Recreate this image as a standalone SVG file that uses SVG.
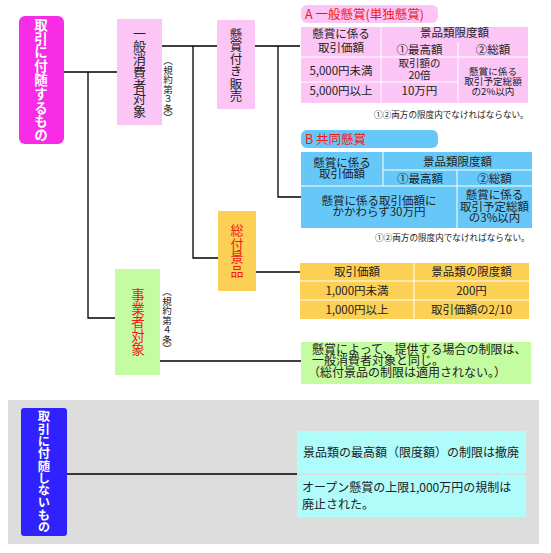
<svg xmlns="http://www.w3.org/2000/svg" width="551" height="553" viewBox="0 0 551 553">
<style>
text{font-family:"Noto Sans CJK JP","Noto Sans CJK SC",sans-serif;fill:#222;}
.t{font-size:11.5px;text-anchor:middle;}
.s{font-size:9.6px;text-anchor:middle;}
.l{font-size:12px;}
.v{writing-mode:vertical-rl;text-anchor:middle;}
.note{font-size:8.6px;}
.red{fill:#f01818;}
.wb{fill:#fff;font-weight:bold;}
.ln{stroke:#000;stroke-width:1.3;fill:none;}
.cell{stroke:#fff;stroke-width:1;}
</style>
<rect x="8" y="400" width="531" height="144" fill="#dcdddc"/>
<g id="connectors">
<path class="ln" d="M64 72H117M88 72V318H115M162 46H217M193 46V258H218M255 46H300M278 46V197H302M256 272H300M160 361H301M67 474H297"/>
</g>
<g id="n-main">
<rect x="19" y="16" width="45" height="128" rx="6" fill="#f82ce6"/>
<text class="v wb" x="41" y="80" style="font-size:13.5px;letter-spacing:0.3px">取引に付随するもの</text>
</g>
<g id="n-consumer">
<rect x="117" y="19" width="45" height="106" fill="#fbc6f6"/>
<text class="v" x="139.5" y="72" style="font-size:13px">一般消費者対象</text>
<text class="v" x="168" y="89" style="font-size:9.5px">（規約第３条）</text>
</g>
<g id="n-kensho">
<rect x="217" y="20" width="38" height="89" fill="#fbc6f6"/>
<text class="v" x="236" y="65" style="font-size:12.5px">懸賞付き販売</text>
</g>
<g id="n-sotsuke">
<rect x="218" y="211" width="38" height="80" fill="#fbd055"/>
<text class="v red" x="237" y="251" style="font-size:13px;letter-spacing:0.6px">総付景品</text>
</g>
<g id="n-jigyo">
<rect x="115" y="269" width="45" height="106" fill="#c3fca1"/>
<text class="v red" x="138" y="322" style="font-size:13.5px">事業者対象</text>
<text class="v" x="167" y="320" style="font-size:9.5px">（規約第４条）</text>
</g>
<g id="n-tableA">
<rect x="301" y="5" width="137" height="18" rx="6" fill="#fbc6f6"/>
<text class="red" x="305" y="19" style="font-size:12.5px">A  一般懸賞(単独懸賞)</text>
<rect x="301" y="27" width="227" height="76" fill="#fbc6f6"/>
<path class="cell" d="M381 27V103M458 42V103M301 57H528M301 82H458"/>
<text class="t" x="341" y="38">懸賞に係る</text>
<text class="t" x="341" y="52">取引価額</text>
<text class="t" x="454.5" y="37">景品類限度額</text>
<text class="t" x="419.5" y="54">①最高額</text>
<text class="t" x="493" y="54">②総額</text>
<text class="t" x="341" y="75">5,000円未満</text>
<text class="t" x="341" y="95">5,000円以上</text>
<text class="t" x="419.5" y="67" style="font-size:10.5px">取引額の</text>
<text class="t" x="419.5" y="79" style="font-size:10.5px">20倍</text>
<text class="t" x="419.5" y="95">10万円</text>
<text class="s" x="493" y="75">懸賞に係る</text>
<text class="s" x="493" y="85">取引予定総額</text>
<text class="s" x="493" y="95">の2%以内</text>
<text class="note" x="374" y="118">①②両方の限度内でなければならない。</text>
</g>
<g id="n-tableB">
<rect x="301" y="130" width="137" height="18" rx="6" fill="#66c8f8"/>
<text class="red" x="305" y="144" style="font-size:12.5px">B  共同懸賞</text>
<rect x="301" y="152" width="231" height="76" fill="#66c8f8"/>
<path class="cell" d="M383 152V186M457 170V228M383 170H532M301 186H532"/>
<text class="t" x="342" y="167">懸賞に係る</text>
<text class="t" x="342" y="178">取引価額</text>
<text class="t" x="457.5" y="166">景品類限度額</text>
<text class="t" x="420" y="183">①最高額</text>
<text class="t" x="494.5" y="183">②総額</text>
<text class="t" x="379" y="205">懸賞に係る取引価額に</text>
<text class="t" x="379" y="216">かかわらず30万円</text>
<text class="t" x="494.5" y="199">懸賞に係る</text>
<text class="t" x="494.5" y="211">取引予定総額</text>
<text class="t" x="494.5" y="222">の3%以内</text>
<text class="note" x="375" y="241">①②両方の限度内でなければならない。</text>
</g>
<g id="n-tableC">
<rect x="300" y="263" width="229" height="56" fill="#fbd055"/>
<path class="cell" d="M414 263V319M300 281H529M300 300H529"/>
<text class="t" x="357" y="276">取引価額</text>
<text class="t" x="471.5" y="276">景品類の限度額</text>
<text class="t" x="357" y="295">1,000円未満</text>
<text class="t" x="471.5" y="295">200円</text>
<text class="t" x="357" y="314">1,000円以上</text>
<text class="t" x="471.5" y="314">取引価額の2/10</text>
</g>
<g id="n-jigyo-note">
<rect x="301" y="342" width="230" height="42" fill="#c3fca1"/>
<text class="l" x="312" y="354">懸賞によって、提供する場合の制限は、</text>
<text class="l" x="312" y="365">一般消費者対象と同じ。</text>
<text class="l" x="308" y="377">（総付景品の制限は適用されない。）</text>
</g>
<g id="n-nonattached">
<rect x="21" y="408" width="46" height="128" rx="3" fill="#2f22ff"/>
<text class="v wb" x="44" y="472" style="font-size:12.3px">取引に付随しないもの</text>
</g>
<g id="n-open">
<rect x="297" y="431" width="229" height="42" fill="#b0fcfa"/>
<rect x="297" y="475" width="229" height="42" fill="#b0fcfa"/>
<rect x="500" y="473" width="5" height="2" fill="#b0fcfa"/>
<text class="l" x="303" y="457">景品類の最高額（限度額）の制限は撤廃</text>
<text class="l" x="302" y="492">オープン懸賞の上限1,000万円の規制は</text>
<text class="l" x="302" y="509">廃止された。</text>
</g>
</svg>
